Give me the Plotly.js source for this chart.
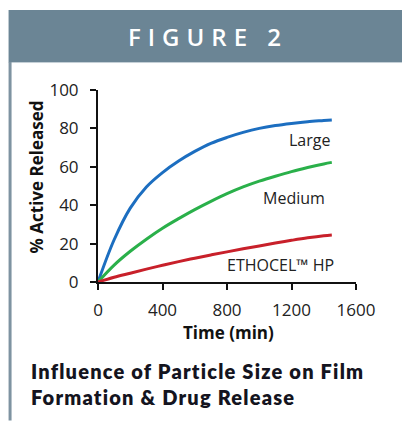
<!DOCTYPE html>
<html>
<head>
<meta charset="utf-8">
<script src="https://cdn.plot.ly/plotly-3.0.1.min.js"></script>
<style>
html,body{margin:0;padding:0;background:#fff;}
#chart{width:402px;height:421px;}
</style>
</head>
<body>
<div id="chart"></div>
<script>
// ---- data ----
var timeMin   = [0, 100, 200, 300, 400, 500, 600, 700, 800, 900, 1000, 1100, 1200, 1300, 1400, 1450];
var largeRel  = [0, 22, 38.5, 49.5, 57, 63, 68, 72.2, 75.3, 77.9, 80, 81.5, 82.6, 83.5, 84.1, 84.4];
var mediumRel = [0, 8.8, 16, 22.3, 28, 33, 37.7, 42, 46, 49.5, 52.5, 55.1, 57.5, 59.6, 61.5, 62.3];
var hpRel     = [0, 2.5, 4.6, 6.7, 8.7, 10.6, 12.4, 14.1, 15.7, 17.3, 18.8, 20.3, 21.7, 23.0, 24.1, 24.5];
var seriesNames = ["Large", "Medium", "ETHOCEL™ HP"];
var xTicks = [0, 400, 800, 1200, 1600];
var yTicks = [0, 20, 40, 60, 80, 100];
var figureTitle = "FIGURE 2";
var captionText = "Influence of Particle Size on Film<br>Formation &amp; Drug Release";
var xTitle = "Time (min)";
var yTitle = "% Active Released";

// ---- layout geometry (pixels) ----
var W = 402, H = 421;
var L = 97.5, R = 355.7, T = 90, B = 282.3;
function px(x){ return (x - L) / (R - L); }
function py(y){ return (B - y) / (B - T); }

var baseFont = "Open Sans, Liberation Sans, sans-serif";
var colors = ["rgb(28,110,192)", "rgb(42,176,74)", "rgb(200,32,42)"];
var ys = [largeRel, mediumRel, hpRel];

var traces = ys.map(function(y, i){
  return {x: timeMin, y: y, type: "scatter", mode: "lines", name: seriesNames[i],
          line: {color: colors[i], width: 3, shape: "spline", smoothing: 1.0},
          hoverinfo: "skip"};
});

var layout = {
  width: W, height: H,
  margin: {l: L, r: W - R, t: T, b: H - B, pad: 0},
  paper_bgcolor: "#fff", plot_bgcolor: "#fff",
  showlegend: false,
  font: {family: baseFont, color: "#222"},
  xaxis: {range: [0, 1600], tickvals: xTicks, ticktext: xTicks.map(String),
          showgrid: false, zeroline: false, showline: true, linecolor: "#111", linewidth: 2,
          ticks: "outside", ticklen: 6, tickwidth: 2, tickcolor: "#111",
          ticklabelstandoff: 6, tickfont: {size: 17, color: "#222"}, fixedrange: true},
  yaxis: {range: [0, 100], tickvals: yTicks, ticktext: yTicks.map(String),
          showgrid: false, zeroline: false, showline: true, linecolor: "#111", linewidth: 2,
          ticks: "outside", ticklen: 6, tickwidth: 2, tickcolor: "#111",
          ticklabelstandoff: 8, tickfont: {size: 17, color: "#222"}, fixedrange: true},
  shapes: [
    {type: "rect", xref: "paper", yref: "paper", x0: px(8), x1: px(402), y0: py(62), y1: py(10),
     fillcolor: "#6b8595", line: {width: 0}, layer: "below"},
    {type: "line", xref: "paper", yref: "paper", x0: px(8), x1: px(402), y0: py(62.5), y1: py(62.5),
     line: {color: "#c3ced5", width: 1}},
    {type: "line", xref: "paper", yref: "paper", x0: px(9.5), x1: px(9.5), y0: py(62), y1: py(421),
     line: {color: "#7e93a1", width: 3}}
  ],
  annotations: [
    {text: figureTitle, xref: "paper", yref: "paper", x: px(208), y: py(36), showarrow: false,
     xanchor: "center", yanchor: "middle", font: {family: baseFont, size: 24, color: "#fff", weight: 600}},
    {text: yTitle, xref: "paper", yref: "paper", x: px(36), y: py(177), showarrow: false, textangle: -90,
     xanchor: "center", yanchor: "middle", font: {family: baseFont, size: 17, color: "#111", weight: 700}},
    {text: xTitle, xref: "paper", yref: "paper", x: px(228), y: py(333), showarrow: false,
     xanchor: "center", yanchor: "middle", font: {family: baseFont, size: 17, color: "#111", weight: 700}},
    {text: captionText, xref: "paper", yref: "paper", x: px(28), y: py(384), showarrow: false,
     xanchor: "left", yanchor: "middle", align: "left",
     font: {family: "Lato, sans-serif", size: 20, color: "#141420", weight: 800}},
    {text: seriesNames[0], x: 1313, y: 74, xref: "x", yref: "y", showarrow: false,
     font: {family: baseFont, size: 16, color: "#222"}},
    {text: seriesNames[1], x: 1213, y: 43.8, xref: "x", yref: "y", showarrow: false,
     font: {family: baseFont, size: 16, color: "#222"}},
    {text: seriesNames[2], x: 1133, y: 9, xref: "x", yref: "y", showarrow: false,
     font: {family: baseFont, size: 16, color: "#222"}}
  ]
};

Plotly.newPlot("chart", traces, layout, {displayModeBar: false, staticPlot: true}).then(function(gd){
  var t = gd.querySelectorAll(".annotation-text");
  t.forEach(function(el){
    if (el.textContent === figureTitle) el.setAttribute("letter-spacing", "7px");
    if (el.textContent.indexOf("Influence") === 0) el.setAttribute("letter-spacing", "1.2px");
  });
});
</script>
</body>
</html>
